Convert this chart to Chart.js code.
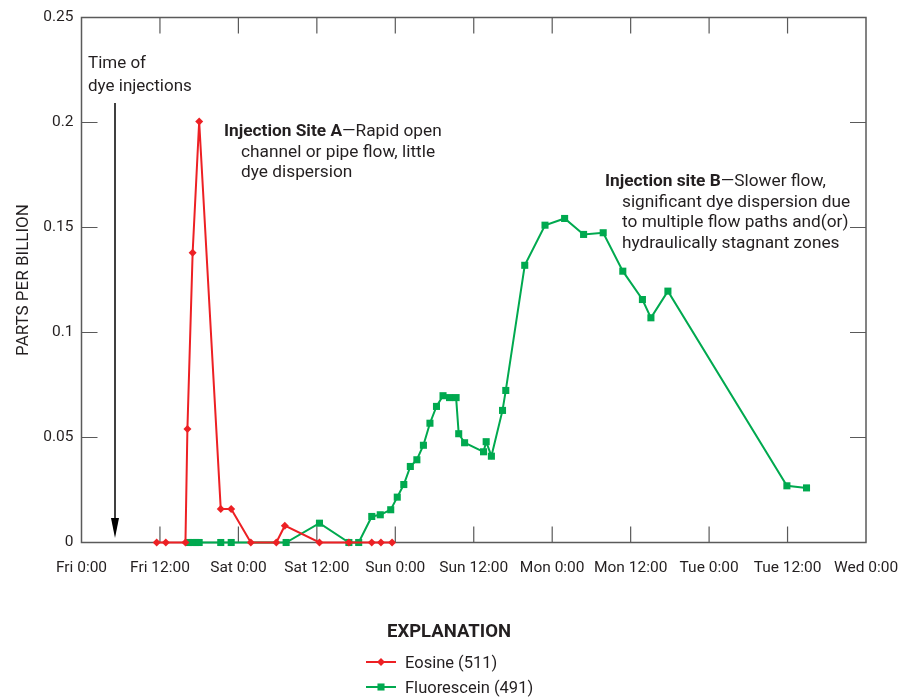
<!DOCTYPE html>
<html>
<head>
<meta charset="utf-8">
<script src="https://cdn.jsdelivr.net/npm/chart.js@4"></script>
<style>
  body { margin: 0; background: #fff; }
</style>
</head>
<body>
<canvas id="myChart" width="899" height="698"></canvas>
<script>
// hours after Fri 0:00, values in parts per billion
var eosineHours = [11.5, 12.9, 15.9, 16.2, 17.0, 18.0, 21.3, 22.9, 25.9, 29.8, 31.1, 36.4, 40.9, 44.4, 45.8, 47.5];
var eosineValues = [0, 0, 0, 0.054, 0.138, 0.2005, 0.016, 0.016, 0, 0, 0.008, 0, 0, 0, 0, 0];

var fluorHours = [16.4, 17.0, 17.5, 18.0, 21.3, 22.9, 31.3, 36.4, 40.9, 42.4, 44.4, 45.7, 47.3, 48.3, 49.3,
    50.3, 51.3, 52.3, 53.3, 54.3, 55.3, 56.3, 57.3, 57.7, 58.6, 61.5, 61.9, 62.7, 64.4, 64.9,
    67.8, 70.9, 73.9, 76.8, 79.8, 82.8, 85.8, 87.1, 89.7, 107.9, 110.9];
var fluorValues = [0, 0, 0, 0, 0, 0, 0, 0.0092, 0, 0, 0.0124, 0.0132, 0.0156, 0.0216, 0.0276,
    0.0362, 0.0394, 0.0463, 0.0568, 0.0648, 0.0699, 0.069, 0.069, 0.0518, 0.0475, 0.0432, 0.048, 0.0411, 0.0629, 0.0724,
    0.132, 0.1511, 0.1543, 0.1467, 0.1475, 0.1292, 0.1157, 0.107, 0.1197, 0.027, 0.026];

var dayNames = ["Fri", "Sat", "Sun", "Mon", "Tue", "Wed"];
var yTicks = [0, 0.05, 0.1, 0.15, 0.2, 0.25];

var red = "#ed2024";
var green = "#00a94f";
var textColor = "#231f20";
var axisColor = "#5a5a5a";
var fontFam = "'Liberation Sans Narrow', 'Roboto', sans-serif";

let toPoints = (xs, ys) => xs.map((x, i) => ({ x: x, y: ys[i] }));

let framePlugin = {
    id: "frame",
    beforeDatasetsDraw: (chart) => {
        var ctx = chart.ctx;
        var a = chart.chartArea;
        var xs = chart.scales.x;
        var ys = chart.scales.y;
        ctx.save();
        ctx.strokeStyle = axisColor;
        ctx.lineWidth = 1.5;
        ctx.strokeRect(a.left, a.top, a.right - a.left, a.bottom - a.top);
        ctx.lineWidth = 1.2;
        ctx.beginPath();
        for (var h = 12; h < 120; h += 12) {
            var px = xs.getPixelForValue(h);
            ctx.moveTo(px, a.bottom); ctx.lineTo(px, a.bottom - 16);
            ctx.moveTo(px, a.top); ctx.lineTo(px, a.top + 16);
        }
        yTicks.slice(1, -1).forEach((v) => {
            var py = ys.getPixelForValue(v);
            ctx.moveTo(a.left, py); ctx.lineTo(a.left + 16, py);
            ctx.moveTo(a.right, py); ctx.lineTo(a.right - 16, py);
        });
        ctx.stroke();
        ctx.restore();
    },
    afterDraw: (chart) => {
        var ctx = chart.ctx;
        var a = chart.chartArea;
        ctx.save();
        ctx.fillStyle = textColor;
        ctx.textBaseline = "alphabetic";
        ctx.textAlign = "left";

        // y axis title
        ctx.save();
        ctx.translate(28, (a.top + a.bottom) / 2);
        ctx.rotate(-Math.PI / 2);
        ctx.textAlign = "center";
        ctx.font = "17px " + fontFam;
        ctx.fillText("PARTS PER BILLION", 0, 0);
        ctx.restore();

        // injection arrow
        ctx.font = "17px " + fontFam;
        ctx.fillText("Time of", 88, 68);
        ctx.fillText("dye injections", 88, 91);
        ctx.strokeStyle = "#000";
        ctx.lineWidth = 1.5;
        ctx.beginPath();
        ctx.moveTo(115, 103);
        ctx.lineTo(115, 522);
        ctx.stroke();
        ctx.fillStyle = "#000";
        ctx.beginPath();
        ctx.moveTo(111, 518);
        ctx.lineTo(119, 518);
        ctx.lineTo(115, 538);
        ctx.closePath();
        ctx.fill();
        ctx.fillStyle = textColor;

        let note = (x, y, bold, rest, lines, indent) => {
            ctx.font = "bold 17.3px " + fontFam;
            ctx.fillText(bold, x, y);
            var w = ctx.measureText(bold).width;
            ctx.font = "17.3px " + fontFam;
            ctx.fillText(rest, x + w, y);
            lines.forEach((t, i) => ctx.fillText(t, x + indent, y + 20.5 * (i + 1)));
        };
        note(224, 136, "Injection Site A", "\u2014Rapid open",
            ["channel or pipe flow, little", "dye dispersion"], 17);
        note(605, 186, "Injection site B", "\u2014Slower flow,",
            ["significant dye dispersion due", "to multiple flow paths and(or)", "hydraulically stagnant zones"], 17);

        // explanation
        ctx.textAlign = "center";
        ctx.font = "bold 18.5px " + fontFam;
        ctx.fillText("EXPLANATION", 449, 637);
        ctx.textAlign = "left";
        ctx.font = "16.5px " + fontFam;
        chart.data.datasets.forEach((ds, i) => {
            var y = 662 + 25 * i;
            ctx.strokeStyle = ds.borderColor;
            ctx.fillStyle = ds.borderColor;
            ctx.lineWidth = 2;
            ctx.beginPath();
            ctx.moveTo(366, y);
            ctx.lineTo(396, y);
            ctx.stroke();
            Chart.helpers.drawPoint(ctx, { pointStyle: ds.pointStyle, radius: ds.pointRadius, borderWidth: 0 }, 381, y);
            ctx.fillStyle = textColor;
            ctx.fillText(ds.label, 405, y + 6);
        });
        ctx.restore();
    },
};

let drawChart = () => {
    var ctx = document.getElementById("myChart").getContext("2d");
    return new Chart(ctx, {
        type: "line",
        data: {
            datasets: [
                {
                    label: "Eosine (511)",
                    data: toPoints(eosineHours, eosineValues),
                    borderColor: red,
                    backgroundColor: red,
                    borderWidth: 2,
                    pointStyle: "rectRot",
                    pointRadius: 4,
                    pointBorderWidth: 0,
                    tension: 0,
                    clip: false,
                },
                {
                    label: "Fluorescein (491)",
                    data: toPoints(fluorHours, fluorValues),
                    borderColor: green,
                    backgroundColor: green,
                    borderWidth: 2,
                    pointStyle: "rect",
                    pointRadius: 5,
                    pointBorderWidth: 0,
                    tension: 0,
                    clip: false,
                },
            ],
        },
        options: {
            responsive: false,
            animation: false,
            layout: { padding: { left: 0, right: 33, top: 17.5, bottom: 0 } },
            plugins: {
                legend: { display: false },
                tooltip: { enabled: false },
            },
            scales: {
                x: {
                    type: "linear",
                    min: 0,
                    max: 120,
                    grid: { display: false, drawTicks: false },
                    border: { display: false },
                    afterFit: (s) => { s.height = 155.5; s.paddingLeft = 0; s.paddingRight = 0; },
                    afterBuildTicks: (s) => {
                        s.ticks = [0, 12, 24, 36, 48, 60, 72, 84, 96, 108, 120].map((v) => ({ value: v }));
                    },
                    ticks: {
                        autoSkip: false,
                        maxRotation: 0,
                        padding: 16,
                        color: textColor,
                        font: { family: fontFam, size: 15.5 },
                        callback: (v) => dayNames[Math.floor(v / 24)] + " " + (v % 24) + ":00",
                    },
                },
                y: {
                    min: 0,
                    max: 0.25,
                    grid: { display: false, drawTicks: false },
                    border: { display: false },
                    afterFit: (s) => { s.width = 81.5; s.paddingTop = 0; s.paddingBottom = 0; },
                    afterBuildTicks: (s) => {
                        s.ticks = yTicks.map((v) => ({ value: v }));
                    },
                    ticks: {
                        padding: 8,
                        color: textColor,
                        font: { family: fontFam, size: 15.5 },
                        callback: (v) => String(+v.toFixed(2)),
                    },
                },
            },
        },
        plugins: [framePlugin],
    });
};
drawChart();
</script>
</body>
</html>
